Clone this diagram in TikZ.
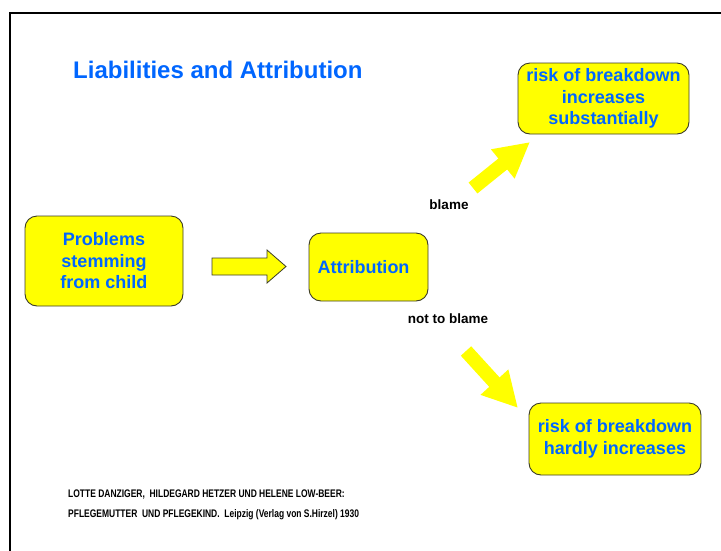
\documentclass[tikz,border=0pt]{standalone}
\usepackage{fontspec}
\setmainfont{Liberation Sans}
\newfontfamily\narrowfont{Liberation Sans}[FakeStretch=0.77]
\usepackage{tikz}
\usetikzlibrary{arrows.meta}

\definecolor{boxyellow}{RGB}{255,255,0}
\definecolor{textblue}{RGB}{0,102,255}
\definecolor{rimgray}{RGB}{60,60,40}

\tikzset{
  box/.style={draw=rimgray, line width=0.9pt, fill=boxyellow, rounded corners=12pt,
    inner sep=0pt, align=center, text=textblue,
    font=\fontsize{18}{21.5}\selectfont\bfseries},
  label/.style={font=\fontsize{13.5}{16}\selectfont\bfseries},
  footer/.style={anchor=west, inner sep=0pt, font=\narrowfont\fontsize{11}{13}\selectfont\bfseries},
  blockarrow/.style={draw=rimgray, line width=0.8pt, fill=boxyellow},
  fatarrow/.style={draw=boxyellow, line width=14pt, -{Triangle[width=35pt,length=35pt]}}
}

\begin{document}
\begin{tikzpicture}[x=1pt,y=-1pt]
        \useasboundingbox (0,0) rectangle (721,550);
        \draw[line width=2pt] (10,551) -- (10,13) -- (722,13);
        \node[anchor=west, inner sep=0pt, text=textblue, font=\fontsize{24}{28}\selectfont\bfseries] (title) at (73,70) {Liabilities and Attribution};
        \node[box, minimum width=158pt, minimum height=90pt] (problems) at (104,261) {Problems\\stemming\\from child};
        \node[box, minimum width=119pt, minimum height=68pt] (attrib) at (368.5,267) {Attribution\hspace*{10pt}};
        \node[box, minimum width=171pt, minimum height=71pt] (high) at (603.5,98.5) {risk of breakdown\\increases\\substantially};
        \node[box, minimum width=172pt, minimum height=72pt] (low) at (615,439) {risk of breakdown\\hardly increases};
        \coordinate (arrS) at (212,266.5);
        \coordinate (arrE) at (286,266.5);
        \draw[blockarrow] (arrS) -- ++(0,-8.5) -- ++(55,0) -- ++(0,-8) -- (arrE) -- ++(-19,16.5) -- ++(0,-8) -- ++(-55,0) -- cycle;
        \coordinate (upS) at (473,188);
        \coordinate (upE) at (530,142);
        \coordinate (downS) at (466,351);
        \coordinate (downE) at (518,408);
        \draw[fatarrow] (upS) -- (upE);
        \draw[fatarrow] (downS) -- (downE);
        \node[label] (blame) at (449,205) {blame};
        \node[label] (noblame) at (448,319) {not to blame};
        \node[footer] (authors) at (68,495) {LOTTE DANZIGER,\ \ HILDEGARD HETZER UND HELENE LOW-BEER:};
        \node[footer] (book) at (68,515) {PFLEGEMUTTER\ \ UND PFLEGEKIND.\ \ Leipzig (Verlag von S.Hirzel) 1930};
    \end{tikzpicture}
\end{document}
